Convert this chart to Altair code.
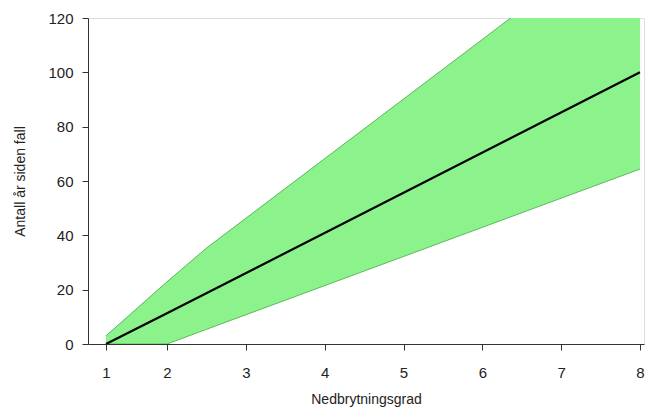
import altair as alt
import pandas as pd

# Data
x_mid = [1, 2, 8]
y_mid = [0, 11.3, 100]

x_band = [1, 2, 2.5, 8]
y_upper = [3, 22.9, 35.3, 156]
y_lower = [0, 0, 5.4, 64.4]

x_ticks = [1, 2, 3, 4, 5, 6, 7, 8]
y_ticks = [0, 20, 40, 60, 80, 100, 120]

mid = pd.DataFrame({"x": x_mid, "y": y_mid})
band = pd.DataFrame({"x": x_band, "hi": y_upper, "lo": y_lower})

FONT = "Liberation Sans"

xscale = alt.Scale(domain=[0.705, 1, 2, 8, 8.05], range=[0, 18, 79, 552, 556], nice=False, zero=False)
yscale = alt.Scale(domain=[0, 120], nice=False, zero=True)

xaxis = alt.Axis(values=x_ticks, title="Nedbrytningsgrad", grid=False, tickSize=6,
                 labelPadding=15, titlePadding=12, labelFontSize=15, titleFontSize=14,
                 labelFont=FONT, titleFont=FONT, labelColor="#222", titleColor="#222",
                 titleFontWeight="normal", domainColor="#333", tickColor="#333", format="d")
yaxis = alt.Axis(values=y_ticks, title="Antall år siden fall", grid=False, tickSize=6,
                 labelPadding=9, titlePadding=20, labelFontSize=15, titleFontSize=14,
                 labelFont=FONT, titleFont=FONT, labelColor="#222", titleColor="#222",
                 titleFontWeight="normal", domainColor="#333", tickColor="#333", format="d")

area = alt.Chart(band).mark_area(color="#8cf28c", opacity=1, clip=True).encode(
    x=alt.X("x:Q", scale=xscale, axis=xaxis),
    y=alt.Y("hi:Q", scale=yscale, axis=yaxis),
    y2="lo:Q",
)
edge_hi = alt.Chart(band).mark_line(color="#5cb85c", strokeWidth=1, clip=True).encode(
    x=alt.X("x:Q", scale=xscale), y=alt.Y("hi:Q", scale=yscale))
edge_lo = alt.Chart(band).mark_line(color="#5cb85c", strokeWidth=1, clip=True).encode(
    x=alt.X("x:Q", scale=xscale), y=alt.Y("lo:Q", scale=yscale))
line = alt.Chart(mid).mark_line(color="#000000", strokeWidth=2.2, clip=True).encode(
    x=alt.X("x:Q", scale=xscale), y=alt.Y("y:Q", scale=yscale))

chart = alt.layer(area, edge_hi, edge_lo, line).properties(
    width=556, height=326,
    autosize=alt.AutoSizeParams(type="none"),
    padding={"left": 80, "top": 10, "right": 1, "bottom": 65},
).configure_view(stroke="#a8a8a8", strokeWidth=1.5).configure(background="white")

chart.save("out.html", embed_options={"renderer": "svg", "actions": False})
